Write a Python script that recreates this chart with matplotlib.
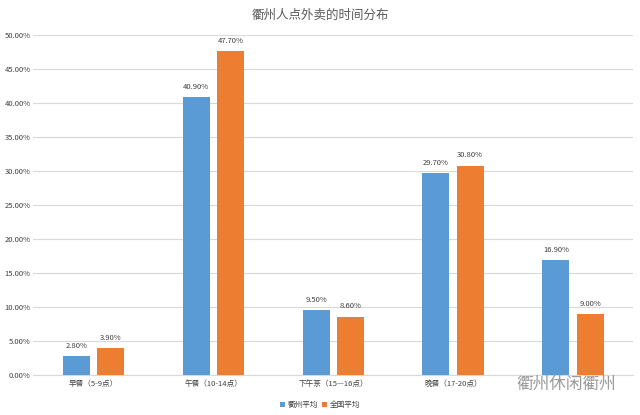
import matplotlib
matplotlib.use("Agg")
import matplotlib.pyplot as plt
import numpy as np
from matplotlib.ticker import FuncFormatter

plt.rcParams['font.family'] = ['Noto Sans CJK SC', 'DejaVu Sans']

# last category label is hidden behind the watermark in the reference
categories = ['早餐（5-9点）', '午餐（10-14点）', '下午茶（15—16点）', '晚餐（17-20点）', '']
quzhou = [2.8, 40.9, 9.5, 29.7, 16.9]
national = [3.9, 47.7, 8.6, 30.8, 9.0]
series_names = ['衢州平均', '全国平均']
title = '衢州人点外卖的时间分布'
watermark = '衢州休闲衢州'

blue = '#5B9BD5'
orange = '#ED7D31'

fig = plt.figure(figsize=(6.4, 4.15), dpi=100)
ax = fig.add_axes([0.052, 0.0964, 0.937, 0.8193])

x = np.arange(len(categories))
w = 0.225
gap = 0.06
b1 = ax.bar(x - w/2 - gap/2, quzhou, w, color=blue, label=series_names[0], zorder=3)
b2 = ax.bar(x + w/2 + gap/2, national, w, color=orange, label=series_names[1], zorder=3)

for bars, vals in ((b1, quzhou), (b2, national)):
    for r, v in zip(bars, vals):
        ax.text(r.get_x() + r.get_width()/2, v + 0.9, f'{v:.2f}%', ha='center', va='bottom',
                fontsize=5.5, color='#404040', fontweight='medium')

ax.set_xlim(-0.5, len(categories) - 0.5)
ax.set_ylim(0, 50)
ax.set_yticks(np.arange(0, 50.1, 5))
ax.yaxis.set_major_formatter(FuncFormatter(lambda v, p: f'{v:.2f}%'))
ax.grid(axis='y', color='#D9D9D9', linewidth=0.8, zorder=0)
for s in ['top', 'right', 'left']:
    ax.spines[s].set_visible(False)
ax.spines['bottom'].set_color('#D9D9D9')
ax.tick_params(axis='both', length=0, labelsize=5.5, colors='#404040')
ax.tick_params(axis='y', pad=2)
ax.set_xticks(x)
ax.set_xticklabels(categories)

fig.text(0.5, 0.963, title, ha='center', va='center', fontsize=9, color='#595959')
fig.legend(handles=[b1, b2], labels=series_names, loc='center', bbox_to_anchor=(0.5, 0.024),
           ncol=2, frameon=False, fontsize=5.5, handlelength=0.7, handleheight=0.7,
           handletextpad=0.3, columnspacing=0.5, labelcolor='#404040')

fig.text(0.885, 0.075, watermark, ha='center', va='center', fontsize=12, color='#9A9A9A')

fig.savefig('out.png', dpi=100)
